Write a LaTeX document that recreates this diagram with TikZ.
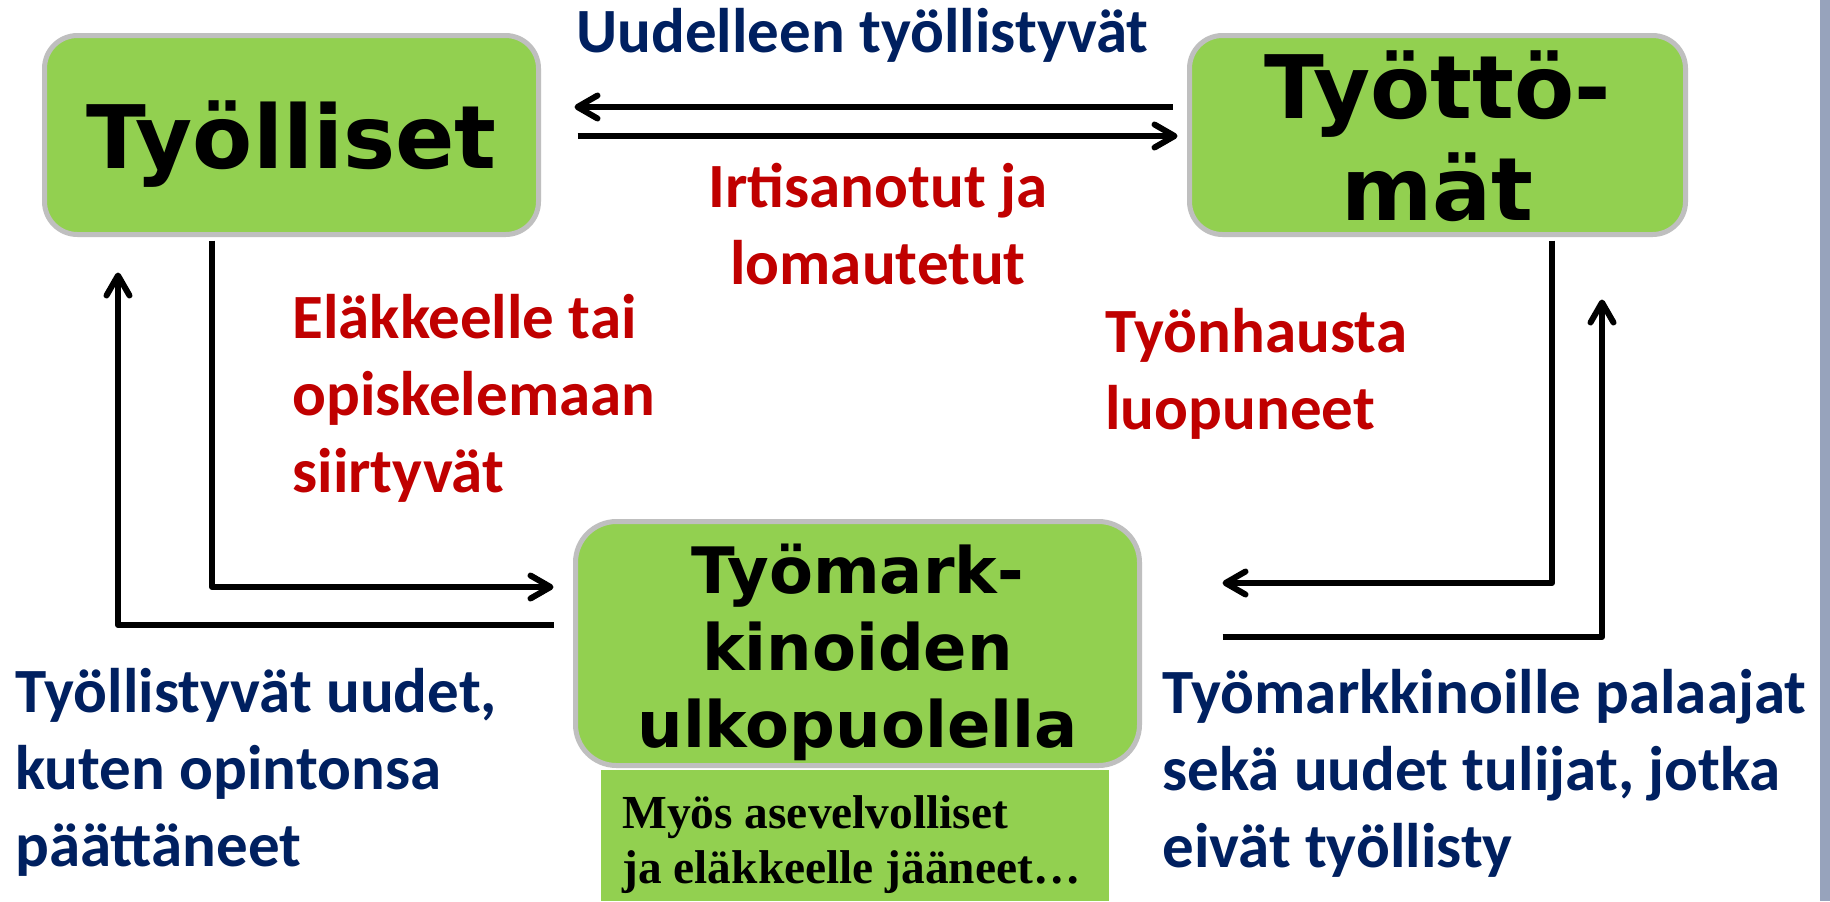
\documentclass[tikz,border=0pt]{standalone}
\usepackage{fontspec}
\newfontfamily\carl{Carlito}
\newfontfamily\dvs{DejaVu Sans}
\newfontfamily\lser{Liberation Serif}
\usetikzlibrary{arrows.meta,calc}
\definecolor{boxgreen}{RGB}{146,208,80}
\definecolor{boxgray}{RGB}{191,191,191}
\definecolor{textblue}{RGB}{0,32,96}
\definecolor{textred}{RGB}{192,0,0}
\definecolor{barcol}{RGB}{151,163,188}
\newcommand{\mlc}[1]{\begin{tabular}[t]{@{}c@{}}#1\end{tabular}}
\newcommand{\mll}[1]{\begin{tabular}[t]{@{}l@{}}#1\end{tabular}}
\tikzset{
  box/.style={draw=boxgray, line width=2.5pt, fill=boxgreen, inner sep=0pt},
  boxtop/.style={box, rounded corners=16.5pt, minimum width=247pt, minimum height=99.5pt},
  boxbot/.style={box, rounded corners=20.5pt, minimum width=282pt, minimum height=122pt},
  toplabel/.style={inner sep=0pt, font=\dvs\bfseries\fontsize{43.8}{51}\selectfont},
  botlabel/.style={inner sep=0pt, font=\dvs\bfseries\fontsize{32}{38.5}\selectfont},
  smalltext/.style={inner sep=0pt, font=\lser\bfseries\fontsize{23.7}{27.5}\selectfont},
  lblue/.style={inner sep=0pt, text=textblue, font=\carl\bfseries\fontsize{31.5}{38.5}\selectfont},
  lred/.style={inner sep=0pt, text=textred, font=\carl\bfseries\fontsize{31.5}{38.5}\selectfont},
  flow/.style={line width=3pt, line join=round, -{Straight Barb[length=10pt,width=11.5pt,round]}}
}
\begin{document}
\begin{tikzpicture}[x=0.5pt,y=-0.5pt]
\useasboundingbox (0,0) rectangle (1830,901);
\fill[white] (0,0) rectangle (1830,901);
\fill[barcol] (1820,0) rectangle (1830,901);

% boxes
\node[boxtop] (b1) at (291.5,135) {};
\node[boxtop, minimum width=248pt] (b2) at (1437.5,135) {};
\node[fill=boxgreen, minimum width=254pt, minimum height=65.5pt, inner sep=0pt] (sb) at (855,835.5) {};
\node[boxbot] (b3) at (857.5,643.5) {};

% box labels
\node[toplabel, anchor=base] (l1) at (291.5,168) {Työlliset};
\node[toplabel, anchor=base] (l2) at (1437.5,118) {\mlc{Työttö-\\mät}};
\node[botlabel, anchor=base] (l3) at (857.5,593) {\mlc{Työmark-\\kinoiden\\ulkopuolella}};
\node[smalltext, anchor=base west] (l4) at (622,828) {\mll{Myös asevelvolliset\\ja eläkkeelle jääneet…}};

% flow labels
\node[lblue, anchor=base west] (t1) at (576,52) {Uudelleen työllistyvät};
\node[lred, anchor=base] (t2) at (878,207) {\mlc{Irtisanotut ja\\lomautetut}};
\node[lred, anchor=base west] (t3) at (292,338) {\mll{Eläkkeelle tai\\opiskelemaan\\siirtyvät}};
\node[lred, anchor=base west] (t4) at (1105,352) {\mll{Työnhausta\\luopuneet}};
\node[lblue, anchor=base west] (t5) at (15,712) {\mll{Työllistyvät uudet,\\kuten opintonsa\\päättäneet}};
\node[lblue, anchor=base west] (t6) at (1162,713) {\mll{Työmarkkinoille palaajat\\sekä uudet tulijat, jotka\\eivät työllisty}};

% connectors
\draw[flow] ($(b2.west)+(-14.5,-28)$) -- ($(b1.east)+(33.5,-28)$);
\draw[flow] ($(b1.east)+(36.5,1)$) -- ($(b2.west)+(-9.5,1)$);
\draw[flow] ($(b1.south)+(-79.5,3.5)$) |- ($(b3.west)+(-19.5,-56.5)$);
\draw[flow] ($(b3.west)+(-19.5,-18.5)$) -| ($(b1.south)+(-173.5,35.5)$);
\draw[flow] ($(b2.south)+(114.5,3.5)$) |- ($(b3.east)+(80.5,-60.5)$);
\draw[flow] ($(b3.east)+(80.5,-6.5)$) -| ($(b2.south)+(164.5,62.5)$);
\end{tikzpicture}
\end{document}
